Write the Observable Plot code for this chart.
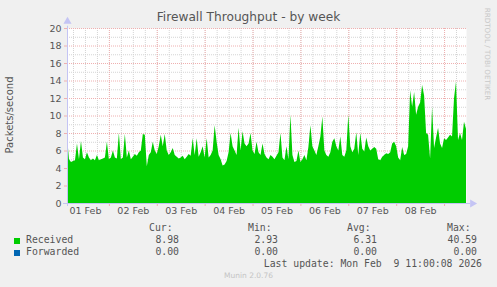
<!DOCTYPE html>
<html>
<head>
<meta charset="utf-8">
<script src="https://cdn.jsdelivr.net/npm/d3@7"></script>
<script src="https://cdn.jsdelivr.net/npm/@observablehq/plot@0.6"></script>
<style>
  html, body { margin: 0; padding: 0; background: #f0f0f0; }
  #wrap { position: relative; width: 497px; height: 287px; background: #f0f0f0; overflow: hidden; font-family: "DejaVu Sans", sans-serif; }
  #wrap svg { position: absolute; left: 0; top: 0; background: transparent; }
  .abs { position: absolute; white-space: pre; }
  .mono { font-family: "DejaVu Sans Mono", monospace; font-size: 9.8px; color: #555; }
</style>
</head>
<body>
<div id="wrap"></div>
<script>
// ---- Data ----
const title = "Firewall Throughput - by week";
const yLabel = "Packets/second";
const seriesStart = "2026-02-01T03:00:00Z";   // first sample, hourly samples
const seriesEnd = "2026-02-09T11:00:00Z";
const received = [
  7.6, 5.0, 4.7, 4.8, 4.9, 6.8, 5.0, 7.1, 5.2, 5.0,
  5.8, 5.2, 4.9, 5.1, 4.9, 5.5, 4.9, 5.0, 5.1, 5.2,
  7.0, 5.0, 5.2, 6.0, 5.2, 5.1, 8.0, 5.0, 5.2, 7.9,
  5.2, 6.0, 5.0, 5.3, 5.6, 5.4, 5.8, 6.0, 7.9, 7.8,
  4.2, 5.5, 5.8, 7.0, 6.0, 5.6, 6.5, 7.8, 6.5, 7.9,
  6.0, 5.5, 5.8, 6.3, 5.5, 5.3, 5.1, 5.2, 5.4, 5.0,
  5.3, 5.6, 5.4, 7.4, 5.5, 7.4, 5.3, 5.8, 6.5, 5.2,
  7.4, 5.2, 5.5, 6.0, 8.9, 7.0, 5.5, 5.0, 4.3, 4.4,
  4.8, 5.8, 8.0, 6.5, 6.0, 5.5, 8.6, 6.0, 8.2, 6.8,
  6.5, 6.8, 8.0, 6.0, 5.6, 7.0, 5.8, 5.5, 6.8, 5.6,
  5.2, 5.0, 5.5, 5.3, 5.0, 5.4, 5.8, 8.0, 5.2, 4.9,
  6.5, 5.0, 10.1, 5.5, 4.7, 4.8, 6.0, 4.7, 5.0, 5.5,
  4.9, 6.4, 8.9, 6.5, 6.0, 5.5, 6.5, 7.6, 9.9, 6.0,
  5.5, 5.3, 5.8, 7.0, 7.4, 6.5, 6.0, 7.6, 5.5, 5.3,
  6.0, 10.1, 6.5, 5.8, 6.2, 8.1, 5.5, 8.0, 6.2, 5.9,
  7.5, 6.5, 6.0, 6.2, 6.4, 6.2, 5.0, 4.9, 5.3, 5.5,
  5.7, 5.6, 5.8, 6.8, 7.0, 6.5, 5.2, 4.9, 6.4, 5.5,
  5.6, 6.5, 12.9, 11.0, 12.7, 10.1, 11.0, 11.5, 13.5, 12.3,
  8.0, 7.8, 5.1, 11.0, 6.3, 7.5, 8.6, 6.8, 6.3, 7.4,
  7.2, 7.5, 7.8, 7.6, 12.0, 13.9, 7.2, 8.0, 7.2, 9.3,
  8.5
];
const yMajorTicks = [0, 2, 4, 6, 8, 10, 12, 14, 16, 18, 20];
const yMinorTicks = [1, 3, 5, 7, 9, 11, 13, 15, 17, 19];
const dayLabels = ["01 Feb", "02 Feb", "03 Feb", "04 Feb", "05 Feb", "06 Feb", "07 Feb", "08 Feb"];
const legendNames = ["Received", "Forwarded"];
const legendColors = ["#00cc00", "#0066b3"];
const legendCur = ["8.98", "0.00"];
const legendMin = ["2.93", "0.00"];
const legendAvg = ["6.31", "0.00"];
const legendMax = ["40.59", "0.00"];
const lastUpdate = "Last update: Mon Feb  9 11:00:08 2026";
const footer = "Munin 2.0.76";
const sideText = "RRDTOOL / TOBI OETIKER";

// ---- Build ----
const t0 = new Date(seriesStart);
const t1 = new Date(seriesEnd);
const table = received.map((v, i) => ({t: d3.utcHour.offset(t0, i), v}));
const midnights = d3.utcDay.range(t0, t1);
const noons = midnights.map(d => d3.utcHour.offset(d, -12));
const sixHours = d3.utcHour.every(6).range(t0, t1);
const labelOf = new Map(noons.map((d, i) => [+d, dayLabels[i]]));
const axisColor = "#c4c4f4";
const red = "#efb0b0";
const gray = "#d4d4d4";

const chart = Plot.plot({
  width: 497,
  height: 220,
  marginLeft: 67,
  marginRight: 31,
  marginTop: 28,
  marginBottom: 17,
  style: {fontFamily: "DejaVu Sans", fontSize: "9.5px", color: "#555", background: "transparent", overflow: "visible"},
  x: {type: "utc", domain: [t0, t1], label: null},
  y: {domain: [0, 20], label: null},
  marks: [
    Plot.frame({fill: "white", stroke: null}),
    Plot.ruleX(sixHours, {stroke: gray, strokeDasharray: "1,1"}),
    Plot.ruleY(yMinorTicks, {stroke: gray, strokeDasharray: "1,1"}),
    Plot.ruleX(midnights, {stroke: red, strokeDasharray: "1,1"}),
    Plot.ruleY(yMajorTicks, {stroke: red, strokeDasharray: "1,1"}),
    Plot.areaY(table, {x: "t", y: "v", fill: legendColors[0], curve: "linear"}),
    Plot.axisY({ticks: yMajorTicks, tickSize: 3, tickFormat: () => "", stroke: red, label: null}),
    Plot.axisY({ticks: yMajorTicks, tickSize: 0, tickPadding: 6, fill: "#555", label: null}),
    Plot.axisX({ticks: midnights, tickSize: 3, tickFormat: () => "", stroke: red, label: null}),
    Plot.axisX({ticks: noons, tickSize: 0, tickPadding: 4, tickFormat: d => labelOf.get(+d), fill: "#555", label: null}),
    Plot.ruleX([t0], {y1: 0, y2: 20.6, stroke: axisColor, dy: 3}),
    Plot.ruleY([0], {x1: d3.utcHour.offset(t0, -1.5), x2: d3.utcHour.offset(t1, 2.5), stroke: axisColor}),
    Plot.dot([t0], {x: d => d, y: () => 20.8, symbol: "triangle", r: 3, fill: axisColor, stroke: null}),
    Plot.dot([t1], {x: d => d3.utcHour.offset(d, 3), y: () => 0, symbol: "triangle", r: 3, rotate: 90, fill: axisColor, stroke: null})
  ]
});

const wrap = document.getElementById("wrap");
wrap.appendChild(chart);

function add(text, css, cls) {
  const el = document.createElement("div");
  el.className = "abs " + (cls || "");
  el.textContent = text;
  Object.assign(el.style, css);
  wrap.appendChild(el);
  return el;
}

add(title, {left: "0px", width: "497px", textAlign: "center", top: "10px", fontSize: "12.2px", color: "#555"});
add(yLabel, {left: "9px", top: "115px", fontSize: "10px", color: "#555", transform: "translate(-50%,-50%) rotate(-90deg)"});
add(sideText, {left: "487px", top: "54px", fontSize: "7.2px", color: "#c8c8c8", transform: "translate(-50%,-50%) rotate(90deg)"});

// Legend header
const colRight = [179, 278, 377, 477];
const heads = ["Cur:", "Min:", "Avg:", "Max:"];
heads.forEach((h, i) => add(h, {left: (colRight[i] - 30) + "px", top: "222px"}, "mono"));
const cols = [legendCur, legendMin, legendAvg, legendMax];
legendNames.forEach((name, r) => {
  const top = 233.5 + r * 12;
  const sq = document.createElement("div");
  Object.assign(sq.style, {position: "absolute", left: "14px", top: (top + 4) + "px", width: "6px", height: "6px", background: legendColors[r]});
  wrap.appendChild(sq);
  add(name, {left: "26px", top: top + "px"}, "mono");
  cols.forEach((c, i) => add(c[r], {right: (497 - colRight[i]) + "px", top: top + "px"}, "mono"));
});
add(lastUpdate, {right: "15px", top: "257.5px"}, "mono");
add(footer, {left: "0px", width: "497px", textAlign: "center", top: "271px", fontSize: "7.5px", color: "#c4c4c4"});
</script>
</body>
</html>
